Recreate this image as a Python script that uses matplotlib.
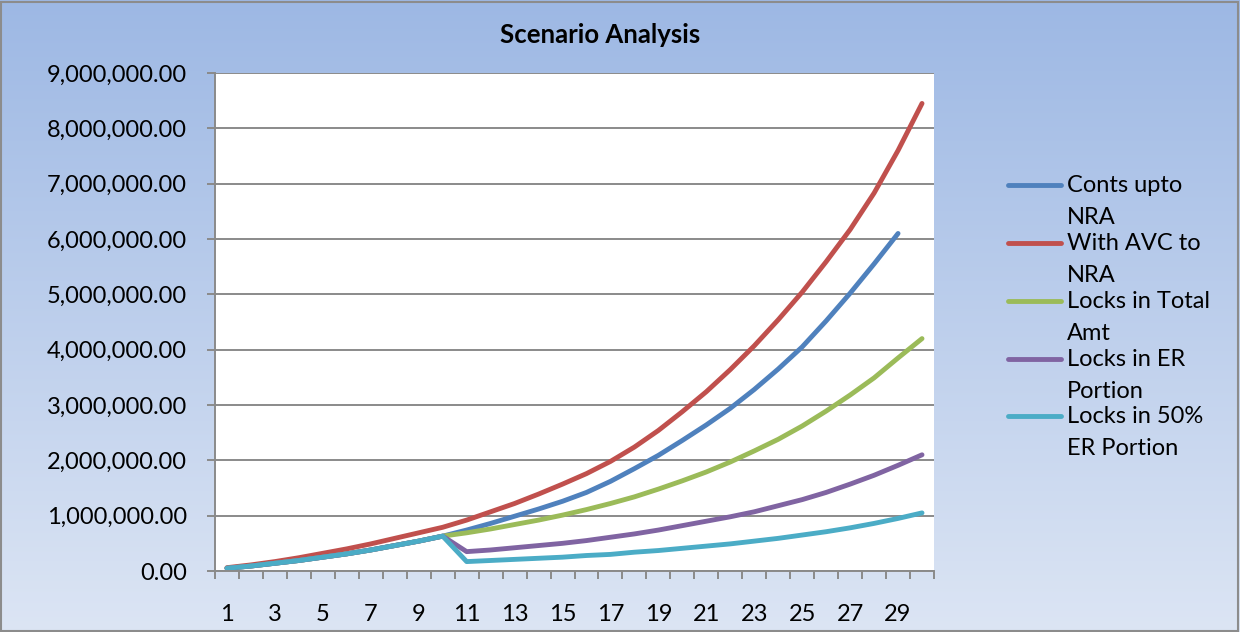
import numpy as np
import matplotlib
matplotlib.use("Agg")
import matplotlib.pyplot as plt
from matplotlib.lines import Line2D
from matplotlib.patches import Rectangle

plt.rcParams['font.family'] = ['Lato', 'DejaVu Sans']

# Years 1..30
years = list(range(1, 31))

# values (in millions)
shared = [0.05, 0.09, 0.14, 0.19, 0.25, 0.31, 0.38, 0.46, 0.54, 0.63]

conts_upto_nra = shared + [0.74, 0.86, 0.99, 1.12, 1.26, 1.42, 1.62, 1.85, 2.09, 2.36,
                           2.64, 2.94, 3.28, 3.65, 4.05, 4.52, 5.02, 5.55, 6.10]
with_avc = [0.06, 0.11, 0.17, 0.24, 0.32, 0.40, 0.49, 0.59, 0.69, 0.79,
            0.92, 1.07, 1.22, 1.39, 1.57, 1.76, 1.98, 2.24, 2.54, 2.88,
            3.24, 3.64, 4.07, 4.54, 5.04, 5.59, 6.17, 6.83, 7.60, 8.45]
locks_total = shared + [0.69, 0.76, 0.84, 0.92, 1.01, 1.11, 1.22, 1.34, 1.48, 1.63,
                        1.79, 1.97, 2.17, 2.38, 2.62, 2.89, 3.18, 3.49, 3.85, 4.20]
locks_er = shared + [0.35, 0.38, 0.42, 0.46, 0.50, 0.55, 0.61, 0.67, 0.74, 0.82,
                     0.90, 0.98, 1.07, 1.18, 1.29, 1.42, 1.57, 1.73, 1.91, 2.10]
locks_50_er = shared + [0.17, 0.19, 0.21, 0.23, 0.25, 0.28, 0.30, 0.34, 0.37, 0.41,
                        0.45, 0.49, 0.54, 0.59, 0.65, 0.71, 0.78, 0.86, 0.95, 1.05]

series = [
    ("Conts upto\nNRA", conts_upto_nra, "#4F81BD"),
    ("With AVC to\nNRA", with_avc, "#C0504D"),
    ("Locks in Total\nAmt", locks_total, "#9BBB59"),
    ("Locks in ER\nPortion", locks_er, "#8064A2"),
    ("Locks in 50%\nER Portion", locks_50_er, "#4BACC6"),
]

W, H = 1240, 632
fig = plt.figure(figsize=(W / 100, H / 100), dpi=100)

# gradient background
bg = fig.add_axes([0, 0, 1, 1], zorder=-10)
top_c = np.array([157, 184, 228]) / 255
bot_c = np.array([220, 229, 244]) / 255
t = np.linspace(0, 1, 256)[:, None]
grad = top_c[None, :] * (1 - t) + bot_c[None, :] * t
bg.imshow(grad[:, None, :], aspect='auto', extent=[0, 1, 0, 1])
bg.set_xlim(0, 1)
bg.set_ylim(0, 1)
bg.axis('off')
fig.add_artist(Rectangle((1 / W, 1 / H), 1 - 3 / W, 1 - 3 / H, transform=fig.transFigure,
                         fill=False, edgecolor="#8C8C8C", linewidth=1.5))

ax = fig.add_axes([215 / W, 1 - 571 / H, (934 - 215) / W, (571 - 73) / H])
ax.set_facecolor("white")

scale = 1e6
for label, vals, color in series:
    ax.plot(years[:len(vals)], np.array(vals) * scale, color=color, linewidth=3.5,
            solid_capstyle='round', solid_joinstyle='round')

ax.set_xlim(0.5, 30.5)
ax.set_ylim(0, 9e6)
ax.set_yticks(np.arange(0, 9e6 + 1, 1e6))
ax.set_yticklabels([f"{v:,.2f}" for v in np.arange(0, 9e6 + 1, 1e6)])
ax.set_xticks(years[::2])
ax.set_xticklabels([str(y) for y in years[::2]])
ax.set_xticks(np.arange(0.5, 31, 1), minor=True)

ax.grid(axis='y', color="#8A8A8A", linewidth=1.4)
ax.set_axisbelow(True)
for side in ["top", "right"]:
    ax.spines[side].set_visible(False)
for side in ["left", "bottom"]:
    ax.spines[side].set_color("#8A8A8A")
    ax.spines[side].set_linewidth(1.4)

ax.tick_params(axis='y', length=6, width=1.4, color="#8A8A8A", pad=14, labelsize=17)
ax.tick_params(axis='x', which='major', length=0, pad=24, labelsize=17)
ax.tick_params(axis='x', which='minor', length=6, width=1.4, color="#8A8A8A")

fig.text(600 / W, 1 - 35 / H, "Scenario Analysis", ha='center', va='center',
         fontsize=18.5, fontweight='bold')

# legend drawn by hand so the key sits next to the first text line
leg_y = [185, 243, 301, 359, 416]
for (label, vals, color), y in zip(series, leg_y):
    fig.add_artist(Line2D([1008 / W, 1061 / W], [1 - y / H, 1 - y / H],
                          transform=fig.transFigure, color=color, linewidth=3.5,
                          solid_capstyle='round'))
    fig.text(1067 / W, 1 - (y - 10) / H, label, ha='left', va='top',
             fontsize=17, linespacing=1.65)

fig.savefig("out.png", dpi=100)
